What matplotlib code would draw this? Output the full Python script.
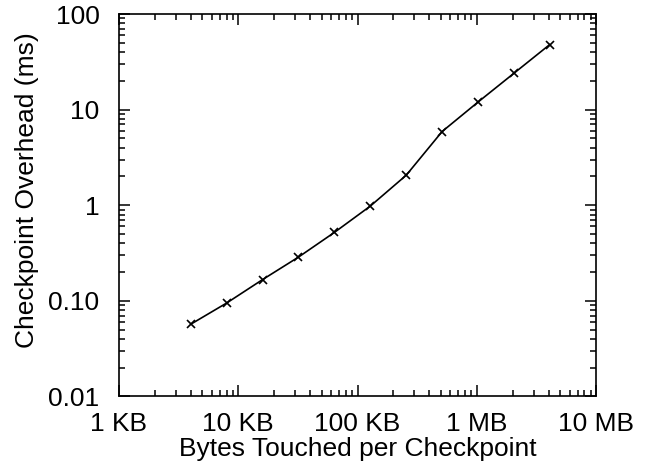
import numpy as np
import matplotlib.pyplot as plt
from matplotlib.ticker import FixedLocator, FixedFormatter, LogLocator, NullFormatter

plt.rcParams['font.family'] = ['Liberation Sans', 'DejaVu Sans']

# bytes touched per checkpoint (KB) and overhead (ms)
size_kb = [4, 8, 16, 32, 64, 128, 256, 512, 1024, 2048, 4096]
overhead_ms = [0.057, 0.095, 0.167, 0.287, 0.52, 0.98, 2.06, 5.9, 12.0, 24.0, 48.0]

x_ticks = [1, 10, 100, 1000, 10000]
x_labels = ['1 KB', '10 KB', '100 KB', '1 MB', '10 MB']
y_ticks = [0.01, 0.1, 1, 10, 100]
y_labels = ['0.01', '0.10', '1', '10', '100']

fig = plt.figure(figsize=(6.48, 4.68), dpi=100)
ax = fig.add_axes([0.1836, 0.1528, 0.7362, 0.8172])

ax.plot(size_kb, overhead_ms, color='black', linewidth=1.2,
        marker='x', markersize=6, markeredgewidth=1.2)

ax.set_xscale('log')
ax.set_yscale('log')
ax.set_xlim(1, 10000)
ax.set_ylim(0.01, 100)

ax.xaxis.set_major_locator(FixedLocator(x_ticks))
ax.xaxis.set_major_formatter(FixedFormatter(x_labels))
ax.yaxis.set_major_locator(FixedLocator(y_ticks))
ax.yaxis.set_major_formatter(FixedFormatter(y_labels))
ax.xaxis.set_minor_locator(LogLocator(base=10, subs=np.arange(2, 10)))
ax.yaxis.set_minor_locator(LogLocator(base=10, subs=np.arange(2, 10)))
ax.xaxis.set_minor_formatter(NullFormatter())
ax.yaxis.set_minor_formatter(NullFormatter())

ax.tick_params(which='both', direction='in', top=True, right=True,
               width=1.1, labelsize=19, colors='black')
ax.tick_params(which='major', length=8)
ax.tick_params(which='minor', length=4)
ax.tick_params(axis='y', which='major', pad=14)
ax.tick_params(axis='x', which='major', pad=11)

for s in ax.spines.values():
    s.set_linewidth(1.2)

ax.set_xlabel('Bytes Touched per Checkpoint', fontsize=19, labelpad=1)
ax.set_ylabel('Checkpoint Overhead (ms)', fontsize=19)
ax.yaxis.set_label_coords(-0.168, 0.54)

plt.savefig('out.png', dpi=100)
